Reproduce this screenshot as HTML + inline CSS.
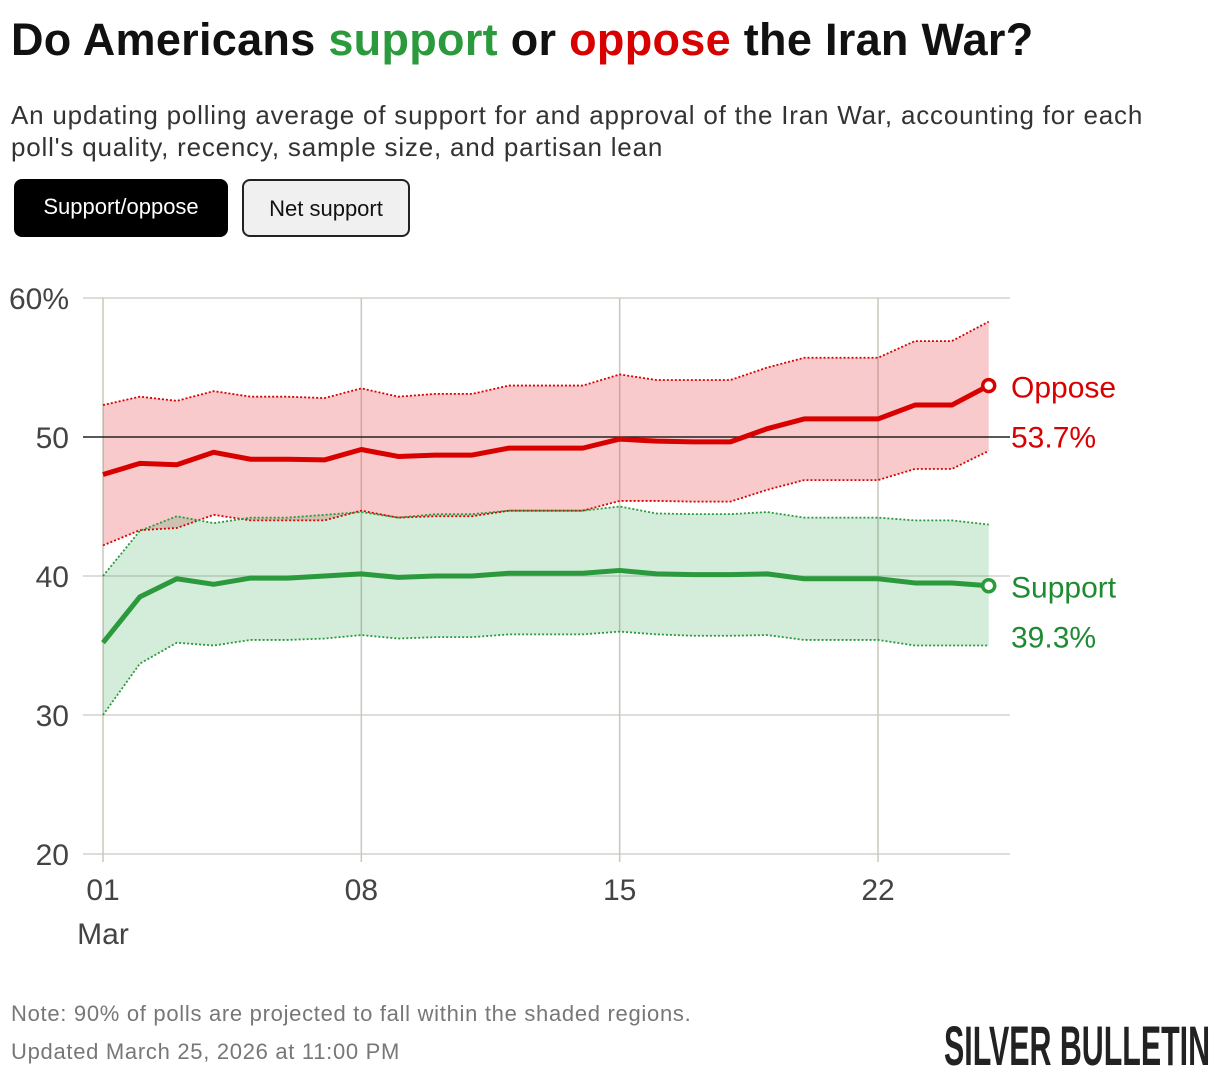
<!DOCTYPE html>
<html><head><meta charset="utf-8"><style>
body{margin:0;width:1220px;height:1076px;background:#fff;font-family:"Liberation Sans",sans-serif;overflow:hidden;position:relative}
.t{position:absolute;left:11px;top:14px;font-size:45px;font-weight:bold;letter-spacing:0.3px;color:#111;white-space:nowrap}
.sub{position:absolute;left:11px;top:99px;font-size:26px;letter-spacing:0.8px;line-height:32px;color:#333;width:1150px}
.btn{position:absolute;top:179px;height:58px;border-radius:8px;font-size:22px;line-height:56px;text-align:center;box-sizing:border-box}
.note{position:absolute;left:11px;font-size:22px;letter-spacing:0.7px;color:#777;white-space:nowrap}
</style></head><body>
<div class="t">Do Americans <span style="color:#2a9a3c">support</span> or <span style="color:#d90000">oppose</span> the Iran War?</div>
<div class="sub">An updating polling average of support for and approval of the Iran War, accounting for each poll's quality, recency, sample size, and partisan lean</div>
<div class="btn" style="left:14px;width:214px;background:#000;color:#fff">Support/oppose</div>
<div class="btn" style="left:242px;width:168px;background:#f0f0f0;border:2px solid #222;color:#111">Net support</div>
<svg id="chart" width="1220" height="1076" style="position:absolute;left:0;top:0"></svg>
<div class="note" style="top:1001px">Note: 90% of polls are projected to fall within the shaded regions.</div>
<div class="note" style="top:1039px">Updated March 25, 2026 at 11:00 PM</div>
<svg width="270" height="60" style="position:absolute;left:942px;top:1016px"><text x="2" y="49" textLength="266" lengthAdjust="spacingAndGlyphs" style='font-family:"Liberation Sans Narrow","Liberation Sans",sans-serif;font-weight:bold;font-size:56px' fill="#222">SILVER BULLETIN</text></svg>
<script>
const days=[1,2,3,4,5,6,7,8,9,10,11,12,13,14,15,16,17,18,19,20,21,22,23,24,25];
const oppose=[47.3,48.1,48.0,48.9,48.4,48.4,48.35,49.1,48.6,48.7,48.7,49.2,49.2,49.2,49.85,49.7,49.65,49.65,50.6,51.3,51.3,51.3,52.3,52.3,53.7];
const opposeHi=[52.3,52.9,52.6,53.3,52.9,52.9,52.8,53.5,52.9,53.1,53.1,53.7,53.7,53.7,54.5,54.1,54.1,54.1,55.0,55.7,55.7,55.7,56.9,56.9,58.3];
const opposeLo=[42.2,43.3,43.45,44.4,44.0,44.0,44.0,44.7,44.2,44.3,44.3,44.7,44.7,44.7,45.4,45.4,45.35,45.35,46.2,46.9,46.9,46.9,47.7,47.7,49.0];
const support=[35.2,38.5,39.8,39.4,39.85,39.85,40.0,40.15,39.9,40.0,40.0,40.2,40.2,40.2,40.4,40.15,40.1,40.1,40.15,39.8,39.8,39.8,39.5,39.5,39.3];
const supportHi=[40.0,43.25,44.3,43.8,44.2,44.2,44.4,44.6,44.2,44.45,44.45,44.7,44.7,44.7,45.0,44.5,44.45,44.45,44.6,44.2,44.2,44.2,44.0,44.0,43.7];
const supportLo=[30.0,33.7,35.2,35.0,35.4,35.4,35.5,35.75,35.5,35.6,35.6,35.8,35.8,35.8,36.0,35.8,35.7,35.7,35.75,35.4,35.4,35.4,35.0,35.0,35.0];
const yTicks=[20,30,40,50,60];
const yTickLabels=["20","30","40","50","60%"];
const xTicks=[1,8,15,22];
const xTickLabels=["01","08","15","22"];
const x=d=>103+(d-1)*(878-103)/21;
const y=v=>854-(v-20)*(854-298)/40;
const svg=document.getElementById('chart');
const NS='http://www.w3.org/2000/svg';
function mk(tag,attrs,name,text){const e=document.createElementNS(NS,tag);for(const k in attrs)e.setAttribute(k,attrs[k]);


if(text!==undefined)e.textContent=text;svg.appendChild(e);return e;}
const AX='font-family:"Liberation Sans Narrow","Liberation Sans",sans-serif;font-size:30px';
yTicks.forEach((v,i)=>{
 if(v!==50)mk('line',{x1:83,x2:1010,y1:y(v),y2:y(v),stroke:'#d4d4cc','stroke-width':1.5},'y-gridline');
 mk('text',{x:69,y:y(v)+11,'text-anchor':'end',fill:'#444',style:AX},'y-tick-label',yTickLabels[i]);
});
xTicks.forEach((d,i)=>{
 mk('line',{x1:x(d),x2:x(d),y1:298,y2:862,stroke:'#c8c8bc','stroke-width':1.5},'x-gridline');
 mk('text',{x:x(d),y:900,'text-anchor':'middle',fill:'#444',style:AX},'x-tick-label',xTickLabels[i]);
});
mk('text',{x:103,y:944,'text-anchor':'middle',fill:'#444',style:AX},'x-month-label','Mar');
function pts(a){return days.map((d,i)=>x(d)+','+y(a[i])).join(' ');}
function band(hi,lo){return days.map((d,i)=>x(d)+','+y(hi[i])).concat(days.slice().reverse().map((d,j)=>{const i=days.length-1-j;return x(d)+','+y(lo[i]);})).join(' ');}
mk('polygon',{points:band(opposeHi,opposeLo),fill:'rgba(232,80,85,0.3)'},'oppose-band');
mk('polygon',{points:band(supportHi,supportLo),fill:'rgba(40,160,70,0.2)'},'support-band');
mk('line',{x1:83,x2:1010,y1:y(50),y2:y(50),stroke:'#222','stroke-width':1.5},'fifty-percent-line');
[[opposeHi,'#d90000','oppose-upper-bound'],[opposeLo,'#d90000','oppose-lower-bound'],[supportHi,'#2a9a3c','support-upper-bound'],[supportLo,'#2a9a3c','support-lower-bound']].forEach(([a,c,n])=>
 mk('polyline',{points:pts(a),fill:'none',stroke:c,'stroke-width':1.8,'stroke-dasharray':'2 2'},n));
mk('polyline',{points:pts(oppose),fill:'none',stroke:'#d90000','stroke-width':5,'stroke-linejoin':'round'},'oppose-line');
mk('polyline',{points:pts(support),fill:'none',stroke:'#2a9a3c','stroke-width':5,'stroke-linejoin':'round'},'support-line');
const L=days.length-1;
mk('circle',{cx:x(days[L]),cy:y(oppose[L]),r:6,fill:'#fff',stroke:'#d90000','stroke-width':3.5},'oppose-end-marker');
mk('circle',{cx:x(days[L]),cy:y(support[L]),r:6,fill:'#fff',stroke:'#2a9a3c','stroke-width':3.5},'support-end-marker');
mk('text',{x:1011,y:y(oppose[L])+12,fill:'#d90000',style:AX},'oppose-label','Oppose');
mk('text',{x:1011,y:y(oppose[L])+62,fill:'#d90000',style:AX},'oppose-value',oppose[L].toFixed(1)+'%');
mk('text',{x:1011,y:y(support[L])+12,fill:'#1e8a32',style:AX},'support-label','Support');
mk('text',{x:1011,y:y(support[L])+62,fill:'#1e8a32',style:AX},'support-value',support[L].toFixed(1)+'%');
</script>
</body></html>
